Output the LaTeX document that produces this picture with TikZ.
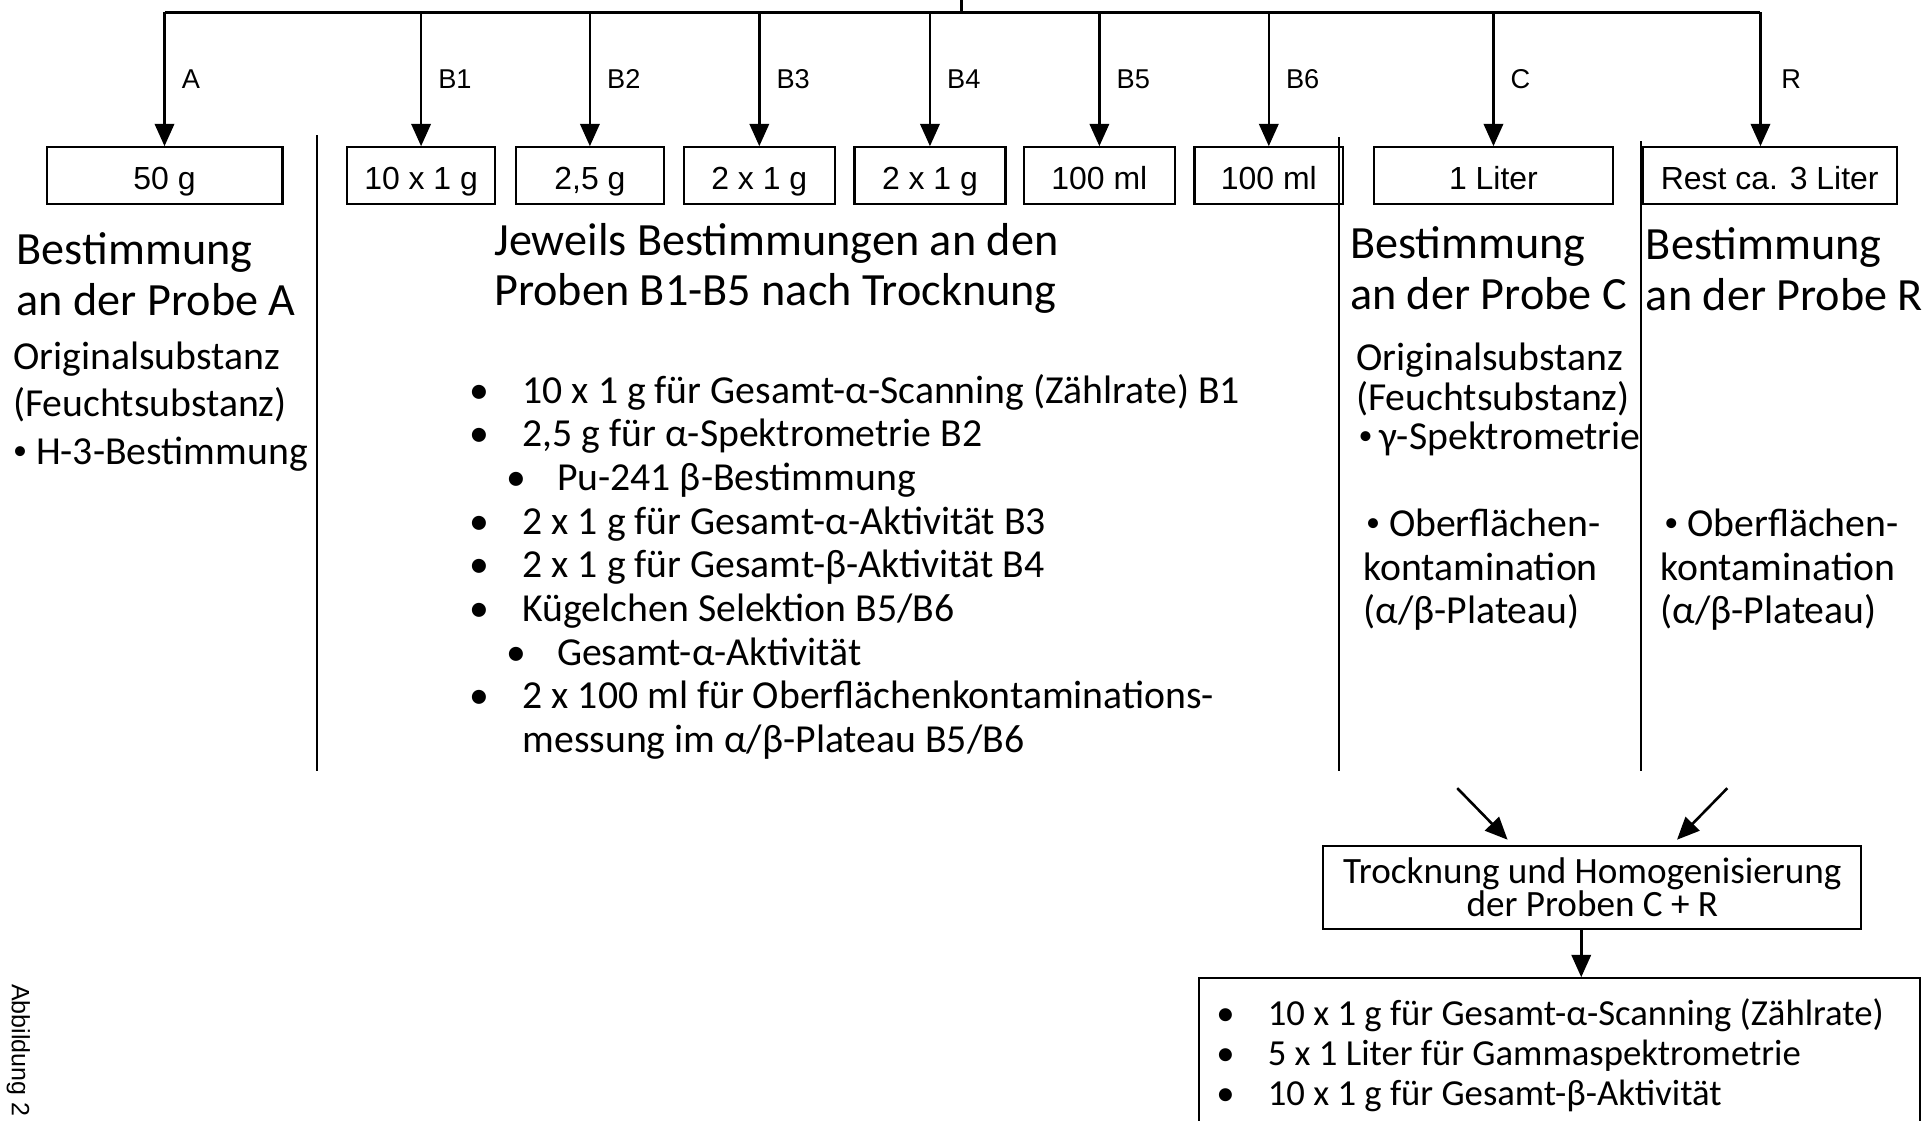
\documentclass[tikz,border=0pt]{standalone}
\usepackage{fontspec}
\setmainfont{Carlito}
\newfontfamily\boxfont{Liberation Sans}
\usepackage{tikz}
\usetikzlibrary{arrows.meta, positioning}
\definecolor{myink}{RGB}{0,0,0}
\newcommand{\itembul}{\makebox[0.43cm][l]{•}}
\newcommand{\subbul}{\hspace{0.30cm}\makebox[0.41cm][l]{•}}
\newcommand{\dotbul}{\raisebox{0.12em}{\fontsize{6.5}{6.5}\selectfont •}}
\tikzset{
  probe/.style={rectangle, draw=myink, line width=0.5pt, inner sep=0pt,
    minimum height=0.46cm, text height=6.4pt, text depth=0pt,
    font=\boxfont\fontsize{7.4}{8}\selectfont},
  lbl/.style={inner sep=0pt, font=\boxfont\fontsize{6.3}{7}\selectfont},
  bigtxt/.style={anchor=north west, inner sep=0pt, align=left,
    font=\fontsize{10.7}{11.67}\selectfont},
  smalltxt/.style={anchor=north west, inner sep=0pt, align=left,
    font=\fontsize{9.2}{10.2}\selectfont},
  arrow/.style={-{Triangle[width=4.5pt,length=5.2pt]}, line width=0.6pt, color=myink},
  line/.style={line width=0.5pt, color=myink}
}

\begin{document}
\begin{tikzpicture}[x=0.01cm, y=-0.01cm]
  \useasboundingbox (0,0) rectangle (1568,913);
  \clip (0,0) rectangle (1568,913);

  % Sample boxes
  \node[probe, minimum width=1.92cm] (pA) at (134,143) {50 g};
  \node[probe, minimum width=1.20cm] (pB1) at (343,143) {10 x 1 g};
  \node[probe, minimum width=1.21cm] (pB2) at (480.5,143) {2,5 g};
  \node[probe, minimum width=1.23cm] (pB3) at (618.5,143) {2 x 1 g};
  \node[probe, minimum width=1.23cm] (pB4) at (757.5,143) {2 x 1 g};
  \node[probe, minimum width=1.23cm] (pB5) at (895.5,143) {100 ml};
  \node[probe, minimum width=1.21cm] (pB6) at (1033.5,143) {100 ml};
  \node[probe, minimum width=1.95cm] (pC) at (1216.5,143) {1 Liter};
  \node[probe, minimum width=2.07cm] (pR) at (1441.5,143) {Rest ca. 3 Liter};

  % Distribution bar
  \coordinate (feed) at (783,0);
  \coordinate (barL) at (134,10);
  \coordinate (barR) at (1434,10);
  \draw[line, line width=0.6pt] (barL) -- (barR);
  \draw[line, line width=0.6pt] (feed) -- (feed |- barL);
  \foreach \p/\t in {pA/A, pB1/B1, pB2/B2, pB3/B3, pB4/B4, pB5/B5, pB6/B6, pC/C}
    \draw[arrow] (\p |- barL) -- node[lbl, right=0.13cm] {\t} (\p.north);
  \draw[arrow] (barR) -- node[lbl, right=0.16cm] {R} (barR |- pR.north);

  % Column dividers
  \draw[line] (258,110) -- (258,628);
  \draw[line] (1091,112) -- (1091,628);
  \draw[line] (1337,115) -- (1337,628);

  % Probe A
  \node[bigtxt] (hA) at (13,189) {Bestimmung\\an der Probe A};
  \node[smalltxt, font=\fontsize{9.2}{10.95}\selectfont] (dA) at (10,278)
    {Originalsubstanz\\(Feuchtsubstanz)\\\dotbul\ H-3-Bestimmung};

  % Proben B1-B6
  \node[bigtxt] (hB) at (402,181) {Jeweils Bestimmungen an den\\Proben B1-B5 nach Trocknung};
  \node[smalltxt, font=\fontsize{9.2}{10.12}\selectfont] (lB) at (382,304) {%
    \itembul 10 x 1 g für Gesamt-α-Scanning (Zählrate) B1\\
    \itembul 2,5 g für α-Spektrometrie B2\\
    \subbul Pu-241 β-Bestimmung\\
    \itembul 2 x 1 g für Gesamt-α-Aktivität B3\\
    \itembul 2 x 1 g für Gesamt-β-Aktivität B4\\
    \itembul Kügelchen Selektion B5/B6\\
    \subbul Gesamt-α-Aktivität\\
    \itembul 2 x 100 ml für Oberflächenkontaminations-\\
    \hspace{0.43cm}messung im α/β-Plateau B5/B6};

  % Probe C
  \node[bigtxt] (hC) at (1099,184) {Bestimmung\\an der Probe C};
  \node[smalltxt, font=\fontsize{9.2}{9.1}\selectfont] (dC) at (1104,279)
    {Originalsubstanz\\(Feuchtsubstanz)\\\hspace{0.02cm}\dotbul\,γ-Spektrometrie};
  \node[smalltxt, font=\fontsize{9.2}{10.1}\selectfont] (oC) at (1110,414)
    {\hspace{0.02cm}\dotbul\ Oberflächen-\\kontamination\\(α/β-Plateau)};

  % Probe R
  \node[bigtxt] (hR) at (1340,185) {Bestimmung\\an der Probe R};
  \node[smalltxt, font=\fontsize{9.2}{10.1}\selectfont] (oR) at (1352,414)
    {\hspace{0.03cm}\dotbul\ Oberflächen-\\kontamination\\(α/β-Plateau)};

  % Trocknung C + R
  \node[draw=myink, line width=0.5pt, minimum width=4.38cm, minimum height=0.68cm,
    inner sep=0pt, align=center, font=\fontsize{8.6}{7.7}\selectfont] (dry) at (1297,723)
    {Trocknung und Homogenisierung\\der Proben C + R};
  \coordinate (fromC) at (1187,642);
  \coordinate (toC) at (1228,684);
  \coordinate (fromR) at (1407,642);
  \coordinate (toR) at (1366,684);
  \draw[arrow] (fromC) -- (toC);
  \draw[arrow] (fromR) -- (toR);

  % Ergebnis
  \node[draw=myink, line width=0.5pt, anchor=north west, minimum width=5.87cm,
    minimum height=1.8cm, inner sep=0pt] (res) at (976,796) {};
  \coordinate (drop) at (1288,757);
  \draw[arrow] (drop) -- (drop |- res.north);
  \node[smalltxt, font=\fontsize{8.5}{9.25}\selectfont] (lres) at (990,813) {%
    \makebox[0.42cm][l]{•}10 x 1 g für Gesamt-α-Scanning (Zählrate)\\
    \makebox[0.42cm][l]{•}5 x 1 Liter für Gammaspektrometrie\\
    \makebox[0.42cm][l]{•}10 x 1 g für Gesamt-β-Aktivität};

  \node[lbl, font=\boxfont\fontsize{5.8}{7}\selectfont, rotate=-90, anchor=west] (fig)
    at (15,801) {Abbildung 2};
\end{tikzpicture}
\end{document}
